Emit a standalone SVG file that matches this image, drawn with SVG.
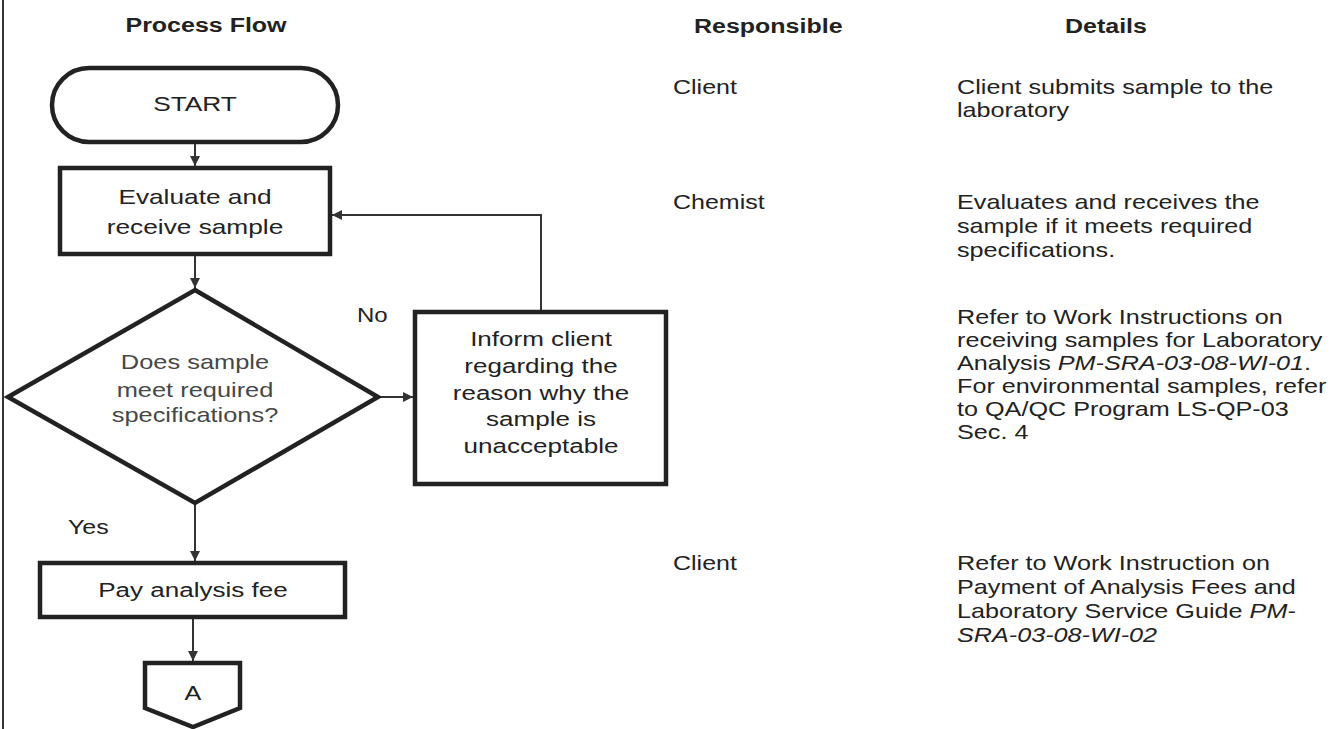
<svg xmlns="http://www.w3.org/2000/svg" width="1344" height="729" viewBox="0 0 1344 729">
<style>
text{font-family:"Liberation Sans",Arial,sans-serif;fill:#222}
.f{font-size:21px}
.d{font-size:20px}
.h{font-size:20px;font-weight:bold}
.c{text-anchor:middle}
.g{fill:#474747;font-size:20.5px}
.i{font-style:italic}
.shape{fill:#fff;stroke:#222;stroke-width:4.5}
.conn{fill:none;stroke:#333;stroke-width:2}
</style>
<defs>
<marker id="arr" viewBox="0 0 10 10" refX="10" refY="5" markerWidth="10" markerHeight="10" orient="auto" markerUnits="userSpaceOnUse">
<path d="M0,0 L10,5 L0,10 z" fill="#333"/>
</marker>
</defs>
<rect width="1344" height="729" fill="#fff"/>
<line x1="3" y1="0" x2="3" y2="729" stroke="#333" stroke-width="2"/>

<g id="headers">
<text class="h c" transform="translate(206,32) scale(1.25,1)">Process Flow</text>
<text class="h" transform="translate(694,33) scale(1.25,1)">Responsible</text>
<text class="h" transform="translate(1065,33) scale(1.25,1)">Details</text>
</g>

<g id="connectors">
<line class="conn" x1="195" y1="142" x2="195" y2="166" marker-end="url(#arr)"/>
<line class="conn" x1="195" y1="256" x2="195" y2="288" marker-end="url(#arr)"/>
<line class="conn" x1="380" y1="397" x2="413" y2="397" marker-end="url(#arr)"/>
<polyline class="conn" points="541,310 541,215 332,215" marker-end="url(#arr)"/>
<line class="conn" x1="195" y1="505" x2="195" y2="561" marker-end="url(#arr)"/>
<line class="conn" x1="193" y1="619" x2="193" y2="661" marker-end="url(#arr)"/>
</g>

<g id="start">
<rect class="shape" x="52" y="68" width="286" height="74" rx="37"/>
<text class="f c" transform="translate(195,111) scale(1.25,1)">START</text>
</g>

<g id="evaluate">
<rect class="shape" x="60" y="168" width="270" height="86"/>
<text class="f c" transform="translate(195,204) scale(1.25,1)">Evaluate and</text>
<text class="f c" transform="translate(195,234) scale(1.25,1)">receive sample</text>
</g>

<g id="decision">
<polygon class="shape" points="195,290 378,397 195,503 8,397" stroke-width="5"/>
<text class="c g" transform="translate(195,369) scale(1.24,1)">Does sample</text>
<text class="c g" transform="translate(195,397) scale(1.24,1)">meet required</text>
<text class="c g" transform="translate(195,422) scale(1.24,1)">specifications?</text>
</g>

<g id="label-no"><text class="d" transform="translate(357,322) scale(1.2,1)">No</text></g>
<g id="label-yes"><text class="d" transform="translate(68,534) scale(1.25,1)">Yes</text></g>

<g id="inform">
<rect class="shape" x="415" y="312" width="251" height="172"/>
<text class="f c" transform="translate(541,346) scale(1.24,1)">Inform client</text>
<text class="f c" transform="translate(541,373) scale(1.24,1)">regarding the</text>
<text class="f c" transform="translate(541,400) scale(1.24,1)">reason why the</text>
<text class="f c" transform="translate(541,426) scale(1.24,1)">sample is</text>
<text class="f c" transform="translate(541,453) scale(1.24,1)">unacceptable</text>
</g>

<g id="pay">
<rect class="shape" x="40" y="563" width="305" height="54"/>
<text class="f c" transform="translate(193,597) scale(1.24,1)">Pay analysis fee</text>
</g>

<g id="connector-a">
<polygon class="shape" points="145,663 240,663 240,708 193,727 145,708"/>
<text class="f c" transform="translate(193,700) scale(1.2,1)">A</text>
</g>

<g id="responsible">
<text class="d" transform="translate(673,94) scale(1.25,1)">Client</text>
<text class="d" transform="translate(673,209) scale(1.25,1)">Chemist</text>
<text class="d" transform="translate(673,570) scale(1.25,1)">Client</text>
</g>

<g id="details">
<text class="d" transform="translate(957,94) scale(1.26,1)">Client submits sample to the</text>
<text class="d" transform="translate(957,117) scale(1.26,1)">laboratory</text>
<text class="d" transform="translate(957,209) scale(1.26,1)">Evaluates and receives the</text>
<text class="d" transform="translate(957,233) scale(1.26,1)">sample if it meets required</text>
<text class="d" transform="translate(957,257) scale(1.26,1)">specifications.</text>
<text class="d" transform="translate(957,324) scale(1.26,1)">Refer to Work Instructions on</text>
<text class="d" transform="translate(957,347) scale(1.26,1)">receiving samples for Laboratory</text>
<text class="d" transform="translate(957,370) scale(1.26,1)">Analysis <tspan class="i">PM-SRA-03-08-WI-01</tspan>.</text>
<text class="d" transform="translate(957,393) scale(1.26,1)">For environmental samples, refer</text>
<text class="d" transform="translate(957,416) scale(1.26,1)">to QA/QC Program LS-QP-03</text>
<text class="d" transform="translate(957,439) scale(1.26,1)">Sec. 4</text>
<text class="d" transform="translate(957,570) scale(1.26,1)">Refer to Work Instruction on</text>
<text class="d" transform="translate(957,594) scale(1.26,1)">Payment of Analysis Fees and</text>
<text class="d" transform="translate(957,618) scale(1.26,1)">Laboratory Service Guide <tspan class="i">PM-</tspan></text>
<text class="d" transform="translate(957,642) scale(1.26,1)"><tspan class="i">SRA-03-08-WI-02</tspan></text>
</g>
</svg>
